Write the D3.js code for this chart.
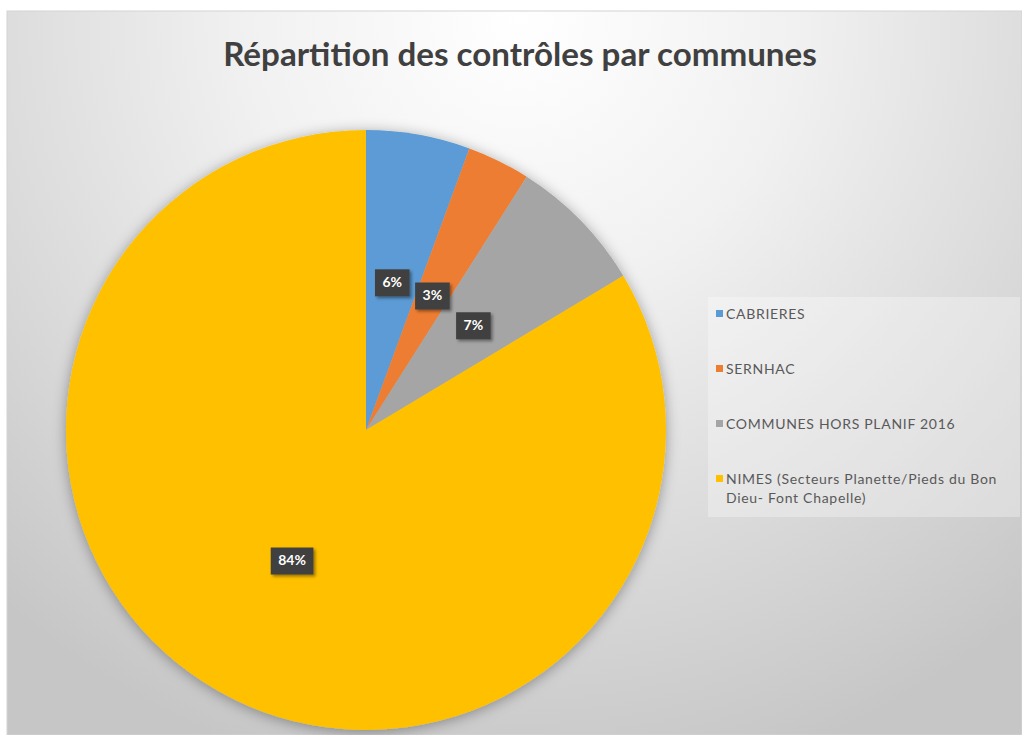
<!DOCTYPE html>
<html>
<head>
<meta charset="utf-8">
<script src="https://cdn.jsdelivr.net/npm/d3@7"></script>
<style>
  body { margin: 0; background: #fff; }
  svg { display: block; }
</style>
</head>
<body>
<div id="chart"></div>
<script>
// data
const communes = ["CABRIERES", "SERNHAC", "COMMUNES HORS PLANIF 2016", "NIMES (Secteurs Planette/Pieds du Bon Dieu- Font Chapelle)"];
const legendLines = [["CABRIERES"], ["SERNHAC"], ["COMMUNES HORS PLANIF 2016"], ["NIMES (Secteurs Planette/Pieds du Bon", "Dieu- Font Chapelle)"]];
const parts = [5.6, 3.4, 7.4, 83.6];
const colours = ["#5b9bd5", "#ed7d31", "#a5a5a5", "#ffc000"];
const title = "Répartition des contrôles par communes";

const width = 1022, height = 735;
const svg = d3.select("#chart").append("svg")
  .attr("width", width)
  .attr("height", height);

const defs = svg.append("defs");
let grad = defs.append("radialGradient")
  .attr("id", "bg")
  .attr("gradientUnits", "userSpaceOnUse")
  .attr("cx", 520).attr("cy", 20).attr("r", 780);
grad.append("stop").attr("offset", "0%").attr("stop-color", "#ffffff");
grad.append("stop").attr("offset", "35%").attr("stop-color", "#f1f1f1");
grad.append("stop").attr("offset", "100%").attr("stop-color", "#c6c6c6");

let shadow = defs.append("filter").attr("id", "shadow")
  .attr("x", "-20%").attr("y", "-20%").attr("width", "140%").attr("height", "140%");
shadow.append("feDropShadow")
  .attr("dx", 0).attr("dy", 2).attr("stdDeviation", 7)
  .attr("flood-color", "#000").attr("flood-opacity", 0.35);

let lblShadow = defs.append("filter").attr("id", "lblshadow")
  .attr("x", "-30%").attr("y", "-30%").attr("width", "160%").attr("height", "170%");
lblShadow.append("feDropShadow")
  .attr("dx", 2).attr("dy", 2).attr("stdDeviation", 1.5)
  .attr("flood-color", "#000").attr("flood-opacity", 0.4);

// chart area
svg.append("rect")
  .attr("x", 7).attr("y", 11)
  .attr("width", width - 7).attr("height", height - 11)
  .attr("fill", "url(#bg)")
  .attr("stroke", "#d4d4d4");

// title
let t = svg.append("text")
  .attr("x", 520).attr("y", 66)
  .attr("text-anchor", "middle")
  .attr("font-family", "Lato, 'Open Sans', sans-serif")
  .attr("font-weight", 700)
  .attr("font-size", 28)
  .attr("fill", "#404040")
  .text(title);
let tw = t.node().getComputedTextLength();
t.attr("font-size", 28 * 594 / tw);

// pie
const cx = 366, cy = 430, r = 300;
const pie = d3.pie().sort(null).value(d => d);
const arc = d3.arc().innerRadius(0).outerRadius(r);
const labelArc = d3.arc().innerRadius(r * 0.5).outerRadius(r * 0.5);
const arcs = pie(parts);
const total = d3.sum(parts);

const g = svg.append("g").attr("transform", "translate(" + cx + "," + cy + ")");

g.append("g").attr("filter", "url(#shadow)")
  .selectAll("path")
  .data(arcs)
  .enter()
  .append("path")
  .attr("d", arc)
  .attr("fill", (d, i) => colours[i]);

// data labels
const labels = g.selectAll(".lbl")
  .data(arcs)
  .enter()
  .append("g")
  .attr("class", "lbl")
  .attr("transform", d => "translate(" + labelArc.centroid(d) + ")");

labels.each(function(d) {
  let lg = d3.select(this);
  let box = lg.append("rect").attr("fill", "#404040").attr("filter", "url(#lblshadow)");
  let txt = lg.append("text")
    .attr("text-anchor", "middle")
    .attr("dy", "0.35em")
    .attr("font-family", "Lato, 'Open Sans', sans-serif")
    .attr("font-weight", 700)
    .attr("font-size", 14)
    .attr("fill", "#ffffff")
    .text(d3.format(".0%")(d.value / total));
  let w = txt.node().getComputedTextLength() + 15;
  box.attr("x", -w / 2).attr("y", -13).attr("width", w).attr("height", 27);
});

// legend
const lx = 708, ly = 297;
svg.append("rect")
  .attr("x", lx).attr("y", ly)
  .attr("width", 312).attr("height", 220)
  .attr("fill", "#ffffff").attr("fill-opacity", 0.3);

const rowY = d3.scalePoint().domain(d3.range(communes.length)).range([314, 479]);

const leg = svg.selectAll(".leg")
  .data(communes)
  .enter()
  .append("g")
  .attr("class", "leg")
  .attr("transform", (d, i) => "translate(" + (lx + 8) + "," + rowY(i) + ")");

leg.append("rect")
  .attr("x", 0).attr("y", -4)
  .attr("width", 7).attr("height", 7)
  .attr("fill", (d, i) => colours[i]);

leg.append("text")
  .attr("x", 10)
  .attr("font-family", "Lato, 'Open Sans', sans-serif")
  .attr("font-size", 14)
  .attr("letter-spacing", 0.7)
  .attr("fill", "#595959")
  .selectAll("tspan")
  .data((d, i) => legendLines[i])
  .enter()
  .append("tspan")
  .attr("x", 10)
  .attr("y", (d, j) => j * 19)
  .attr("dy", "0.35em")
  .text(d => d);
</script>
</body>
</html>
